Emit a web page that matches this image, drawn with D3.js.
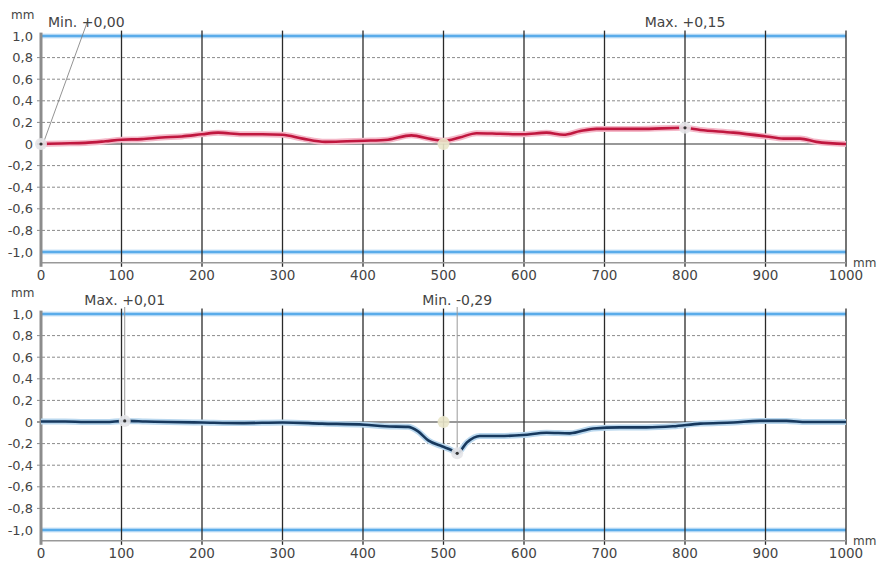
<!DOCTYPE html>
<html>
<head>
<meta charset="utf-8">
<script src="https://cdn.jsdelivr.net/npm/d3@7"></script>
<style>
  html, body { margin: 0; padding: 0; background: #fff; }
  svg { display: block; }
  text { font-family: "DejaVu Sans", sans-serif; fill: #444; }
</style>
</head>
<body>
<svg id="chart" width="882" height="562"></svg>
<script>
// ---------- data ----------
const xTicks = [0, 100, 200, 300, 400, 500, 600, 700, 800, 900, 1000];
const yTicks = [1.0, 0.8, 0.6, 0.4, 0.2, 0, -0.2, -0.4, -0.6, -0.8, -1.0];
const yTickLabels = ["1,0", "0,8", "0,6", "0,4", "0,2", "0", "-0,2", "-0,4", "-0,6", "-0,8", "-1,0"];
const unitLabel = "mm";

const topX = [0, 25, 55, 80, 100, 125, 150, 175, 200, 220, 250, 275, 300, 325, 353, 380, 402, 431, 460, 485, 500, 520, 541, 570, 599, 628, 649, 670, 690, 744, 798, 819, 860, 901, 922, 943, 963, 1000];
const topY = [0.00, 0.005, 0.01, 0.025, 0.04, 0.045, 0.06, 0.07, 0.09, 0.105, 0.09, 0.09, 0.085, 0.05, 0.02, 0.025, 0.03, 0.04, 0.08, 0.045, 0.03, 0.06, 0.10, 0.095, 0.09, 0.105, 0.085, 0.12, 0.14, 0.14, 0.15, 0.13, 0.105, 0.07, 0.05, 0.05, 0.02, 0.00];

const botX = [0, 30, 55, 80, 104, 130, 158, 200, 249, 300, 349, 402, 427, 456, 468, 481, 498, 510, 517, 529, 545, 570, 599, 628, 657, 686, 719, 752, 785, 819, 860, 893, 926, 951, 1000];
const botY = [0.005, 0.005, 0.0, 0.0, 0.01, 0.005, 0.0, -0.005, -0.01, -0.005, -0.015, -0.025, -0.04, -0.045, -0.085, -0.17, -0.225, -0.26, -0.29, -0.19, -0.13, -0.13, -0.12, -0.10, -0.105, -0.06, -0.05, -0.05, -0.04, -0.015, -0.005, 0.01, 0.01, 0.0, 0.0];

const refPoint = [500, 0];
const topExtremes = [
  { x: 0, y: 0.00, label: "Min. +0,00" },
  { x: 800, y: 0.15, label: "Max. +0,15" }
];
const botExtremes = [
  { x: 104, y: 0.01, label: "Max. +0,01" },
  { x: 517, y: -0.29, label: "Min. -0,29" }
];

// ---------- layout ----------
const svg = d3.select("#chart");
const left = 41, right = 846;
const x = d3.scaleLinear().domain([0, 1000]).range([left, right]);

function panel(offsetY, xs, ys, color, halo, extremes, annot) {
  const y = d3.scaleLinear().domain([-1.1, 1.05]).range([144 + 1.1 * 108 + offsetY, 144 - 1.05 * 108 + offsetY]);
  const g = svg.append("g");

  // dashed horizontal grid
  g.selectAll("line.hgrid").data(yTicks.filter(v => Math.abs(v) > 0.01 && Math.abs(v) < 0.99))
    .enter().append("line")
    .attr("x1", left - 4).attr("x2", right)
    .attr("y1", d => y(d)).attr("y2", d => y(d))
    .attr("stroke", "#8a8a8a").attr("stroke-width", 1).attr("stroke-dasharray", "3,2");

  // blue limit lines
  [1.0, -1.0].forEach(v => {
    g.append("line").attr("x1", left).attr("x2", right).attr("y1", y(v)).attr("y2", y(v))
      .attr("stroke", "#cfe6f8").attr("stroke-width", 5);
    g.append("line").attr("x1", left).attr("x2", right).attr("y1", y(v)).attr("y2", y(v))
      .attr("stroke", "#5aacea").attr("stroke-width", 2.5);
  });

  // vertical grid lines
  g.selectAll("line.vgrid").data(xTicks.filter(v => v > 0))
    .enter().append("line")
    .attr("x1", d => x(d)).attr("x2", d => x(d))
    .attr("y1", y(1.05)).attr("y2", y(-1.1) + 4)
    .attr("stroke", "#2a2a2a").attr("stroke-width", 1.3);

  // zero line
  g.append("line").attr("x1", left - 4).attr("x2", right).attr("y1", y(0)).attr("y2", y(0))
    .attr("stroke", "#333").attr("stroke-width", 1.2);

  // bottom axis line
  g.append("line").attr("x1", left).attr("x2", right).attr("y1", y(-1.1)).attr("y2", y(-1.1))
    .attr("stroke", "#999").attr("stroke-width", 1.5);

  // left axis line
  g.append("line").attr("x1", left).attr("x2", left).attr("y1", y(1.05) + 2).attr("y2", y(-1.1) + 4)
    .attr("stroke", "#8c8c8c").attr("stroke-width", 3);

  // y tick labels
  g.selectAll("text.ylab").data(yTicks).enter().append("text")
    .attr("x", 33).attr("y", d => y(d)).attr("dy", "0.36em")
    .attr("text-anchor", "end").attr("font-size", 13).text((d, i) => yTickLabels[i]);

  // x tick labels
  g.selectAll("text.xlab").data(xTicks).enter().append("text")
    .attr("x", d => x(d)).attr("y", 280 + offsetY)
    .attr("text-anchor", "middle").attr("font-size", 13.5).text(d => d);

  // unit labels
  g.append("text").attr("x", 11).attr("y", 19 + offsetY).attr("font-size", 12).text(unitLabel);
  g.append("text").attr("x", 853).attr("y", 267 + offsetY).attr("font-size", 12).text(unitLabel);

  // data line
  const line = d3.line().x((d, i) => x(xs[i])).y((d, i) => y(ys[i])).curve(d3.curveMonotoneX);
  g.append("path").datum(ys).attr("d", line).attr("fill", "none")
    .attr("stroke", halo).attr("stroke-width", 6).attr("stroke-linejoin", "round");
  g.append("path").datum(ys).attr("d", line).attr("fill", "none")
    .attr("stroke", color).attr("stroke-width", 2.6).attr("stroke-linejoin", "round");

  // reference marker
  g.append("circle").attr("cx", x(refPoint[0])).attr("cy", y(refPoint[1])).attr("r", 6)
    .attr("fill", "#e9e6c9").attr("opacity", 0.9);

  // extremes annotations
  annot(g, y);
  extremes.forEach(e => {
    g.append("circle").attr("cx", x(e.x)).attr("cy", y(e.y)).attr("r", 6)
      .attr("fill", "#e4e4e8").attr("opacity", 0.9);
    g.append("circle").attr("cx", x(e.x)).attr("cy", y(e.y)).attr("r", 1.6).attr("fill", "#333");
  });
}

panel(0, topX, topY, "#c0173f", "#f4b8c8", topExtremes, (g, y) => {
  const a = topExtremes[0];
  g.append("line").attr("x1", x(a.x) + 2).attr("y1", y(a.y)).attr("x2", 88).attr("y2", 20)
    .attr("stroke", "#777").attr("stroke-width", 0.8);
  g.append("text").attr("x", 48).attr("y", 27).attr("font-size", 14).text(a.label);
  const b = topExtremes[1];
  g.append("text").attr("x", x(b.x)).attr("y", 27).attr("text-anchor", "middle").attr("font-size", 14).text(b.label);
});

panel(278, botX, botY, "#17395e", "#b9d7ee", botExtremes, (g, y) => {
  const a = botExtremes[0];
  g.append("line").attr("x1", x(a.x)).attr("x2", x(a.x)).attr("y1", 307).attr("y2", y(a.y))
    .attr("stroke", "#999").attr("stroke-width", 1);
  g.append("text").attr("x", x(a.x)).attr("y", 305).attr("text-anchor", "middle").attr("font-size", 14).text(a.label);
  const b = botExtremes[1];
  g.append("line").attr("x1", x(b.x)).attr("x2", x(b.x)).attr("y1", 307).attr("y2", y(b.y))
    .attr("stroke", "#999").attr("stroke-width", 1);
  g.append("text").attr("x", x(b.x)).attr("y", 305).attr("text-anchor", "middle").attr("font-size", 14).text(b.label);
});
</script>
</body>
</html>
